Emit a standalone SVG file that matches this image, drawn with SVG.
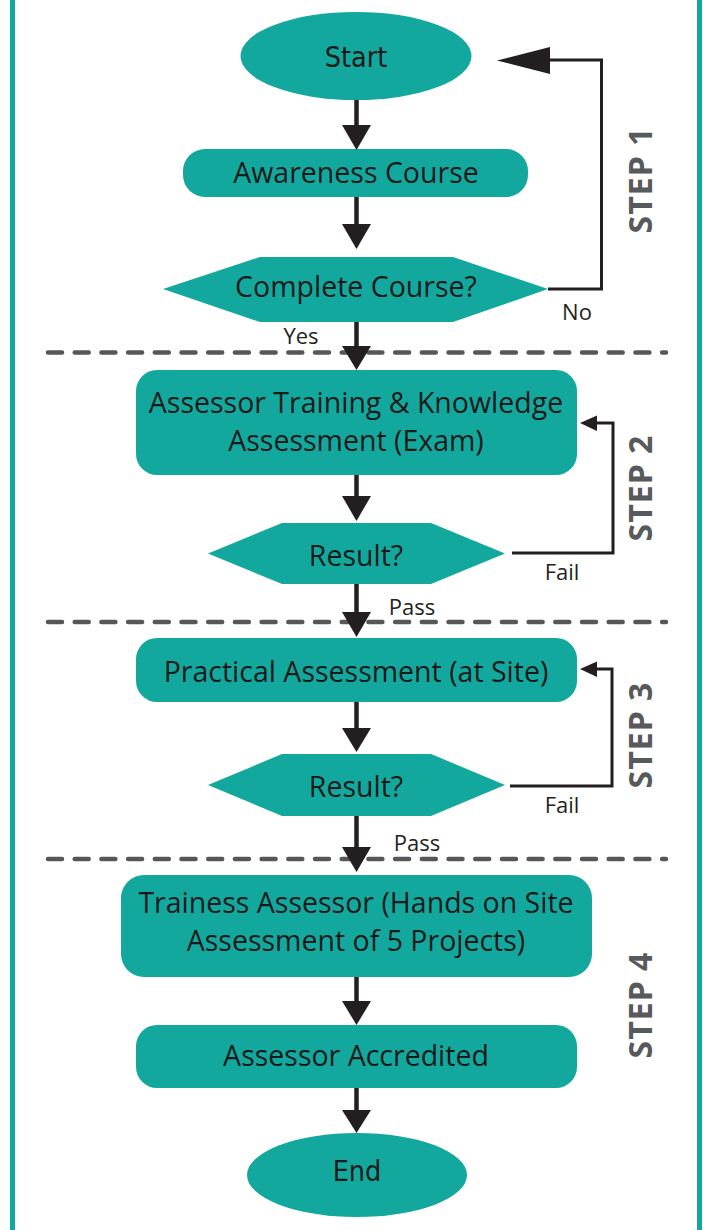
<svg xmlns="http://www.w3.org/2000/svg" width="705" height="1230" viewBox="0 0 705 1230">
<style>
.node{fill:#13A89E}
.t{font-family:"Open Sans","Liberation Sans",sans-serif;font-size:28.5px;fill:#1a1a1a;text-anchor:middle}
.tc{font-family:"DejaVu Sans Condensed","DejaVu Sans",sans-serif;font-stretch:condensed;font-size:28.5px;fill:#1a1a1a;text-anchor:middle}
.lbl{font-family:"Open Sans","Liberation Sans",sans-serif;font-size:22px;fill:#231F20;text-anchor:middle}
.step{font-family:"Open Sans","Liberation Sans",sans-serif;font-weight:bold;font-size:32px;fill:#58595B;text-anchor:middle;letter-spacing:1px}
.ln{stroke:#231F20;stroke-width:4.5;fill:none}
.lp{stroke:#231F20;stroke-width:3;fill:none}
.ah{fill:#231F20}
.dash{stroke:#555759;stroke-width:4.5;stroke-linecap:round;stroke-dasharray:14 12.7;fill:none}
.border{stroke:#13A89E;stroke-width:5;fill:none}
</style>
<g id="frame">
<line class="border" x1="12.5" y1="0" x2="12.5" y2="1230"/>
<line class="border" x1="699.5" y1="0" x2="699.5" y2="1230"/>
<line class="dash" x1="48" y1="352.5" x2="666" y2="352.5"/>
<line class="dash" x1="48" y1="622" x2="666" y2="622"/>
<line class="dash" x1="48" y1="859" x2="666" y2="859"/>
</g>
<g id="steps">
<text class="step" transform="translate(652 180) rotate(-90)">STEP 1</text>
<text class="step" transform="translate(652 488) rotate(-90)">STEP 2</text>
<text class="step" transform="translate(652 735) rotate(-90)">STEP 3</text>
<text class="step" transform="translate(652 1005) rotate(-90)">STEP 4</text>
</g>
<g id="start">
<ellipse class="node" cx="356" cy="56" rx="115.5" ry="44"/>
<text class="tc" x="356" y="67">Start</text>
</g>
<g id="awareness">
<rect class="node" x="183" y="149" width="345" height="48" rx="22"/>
<text class="t" x="356" y="183">Awareness Course</text>
</g>
<g id="complete">
<polygon class="node" points="163,289 260,257 453,257 548,289 453,322 260,322"/>
<text class="t" x="356" y="297">Complete Course?</text>
</g>
<g id="training">
<rect class="node" x="136" y="370" width="441" height="105" rx="21"/>
<text class="t" x="356" y="413">Assessor Training &amp; Knowledge</text>
<text class="t" x="356" y="451">Assessment (Exam)</text>
</g>
<g id="result1">
<polygon class="node" points="208,553.5 282,523 431,523 505,553.5 431,584 282,584"/>
<text class="t" x="356" y="566">Result?</text>
</g>
<g id="practical">
<rect class="node" x="136" y="638" width="441" height="64" rx="21"/>
<text class="t" x="356" y="682">Practical Assessment (at Site)</text>
</g>
<g id="result2">
<polygon class="node" points="208,785 282,754 431,754 505,785 431,816 282,816"/>
<text class="t" x="356" y="797">Result?</text>
</g>
<g id="trainee">
<rect class="node" x="121" y="875" width="471" height="102" rx="23"/>
<text class="t" x="356" y="913">Trainess Assessor (Hands on Site</text>
<text class="t" x="356" y="951">Assessment of 5 Projects)</text>
</g>
<g id="accredited">
<rect class="node" x="136" y="1025" width="441" height="63" rx="21"/>
<text class="t" x="356" y="1066">Assessor Accredited</text>
</g>
<g id="end">
<ellipse class="node" cx="357" cy="1175" rx="110" ry="42"/>
<text class="tc" x="357" y="1181">End</text>
</g>
<g id="connectors">
<line class="ln" x1="356.5" y1="100" x2="356.5" y2="127"/>
<polygon class="ah" points="342,125 371,125 356.5,150"/>
<line class="ln" x1="356.5" y1="197" x2="356.5" y2="226"/>
<polygon class="ah" points="342,224 371,224 356.5,249"/>
<line class="ln" x1="356.5" y1="322" x2="356.5" y2="348"/>
<polygon class="ah" points="342,346 371,346 356.5,370"/>
<line class="ln" x1="356.5" y1="475" x2="356.5" y2="498"/>
<polygon class="ah" points="342,496 371,496 356.5,521"/>
<line class="ln" x1="356.5" y1="584" x2="356.5" y2="614"/>
<polygon class="ah" points="342,612 371,612 356.5,637"/>
<line class="ln" x1="356.5" y1="702" x2="356.5" y2="730"/>
<polygon class="ah" points="342,728 371,728 356.5,752"/>
<line class="ln" x1="356.5" y1="816" x2="356.5" y2="849"/>
<polygon class="ah" points="342,847 371,847 356.5,872"/>
<line class="ln" x1="356.5" y1="977" x2="356.5" y2="1003"/>
<polygon class="ah" points="342,1001 371,1001 356.5,1025"/>
<line class="ln" x1="356.5" y1="1088" x2="356.5" y2="1112"/>
<polygon class="ah" points="342,1110 371,1110 356.5,1133"/>
<polyline class="lp" points="548,289 601.5,289 601.5,60 548,60"/>
<polygon class="ah" points="550,47 550,74 497,60.5"/>
<polyline class="lp" points="512,553 613,553 613,423 596,423"/>
<polygon class="ah" points="597,415.5 597,431 580,423"/>
<polyline class="lp" points="510,786 612,786 612,669 596,669"/>
<polygon class="ah" points="597,661.5 597,677 580,669"/>
<text class="lbl" x="577" y="320">No</text>
<text class="lbl" x="301" y="344">Yes</text>
<text class="lbl" x="562" y="580">Fail</text>
<text class="lbl" x="412" y="615">Pass</text>
<text class="lbl" x="562" y="813">Fail</text>
<text class="lbl" x="417" y="851">Pass</text>
</g>
</svg>
